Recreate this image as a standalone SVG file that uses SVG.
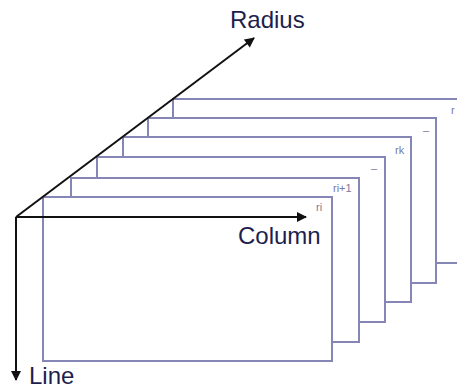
<svg xmlns="http://www.w3.org/2000/svg" width="457" height="389" viewBox="0 0 457 389">
  <defs>
    <marker id="arrow" viewBox="0 0 10 10" refX="9" refY="5" markerWidth="5.5" markerHeight="5" orient="auto" markerUnits="strokeWidth">
      <path d="M0,0 L10,5 L0,10 z" fill="#111"/>
    </marker>
  </defs>
  <style>
    .frame { fill: #ffffff; stroke: #8686b6; stroke-width: 2; }
    .tag { font-family: "Liberation Sans", Arial, sans-serif; font-size: 11px; fill: #7a7a9a; }
    .axis { fill: none; stroke: #111; stroke-width: 2; marker-end: url(#arrow); }
    .axis-label { font-family: "Liberation Sans", Arial, sans-serif; font-size: 24px; fill: #1e1e4e; }
  </style>

  <rect width="457" height="389" fill="#ffffff"/>

  <!-- stacked radius slices, back to front -->
  <g id="slice-r">
    <rect class="frame" x="173" y="99" width="289" height="164"/>
    <text class="tag" x="451" y="114">r</text>
  </g>
  <g id="slice-5">
    <rect class="frame" x="148" y="118" width="288" height="165"/>
    <text class="tag" x="423" y="134">–</text>
  </g>
  <g id="slice-rk">
    <rect class="frame" x="123" y="137" width="288" height="165"/>
    <text class="tag" x="395" y="154">rk</text>
  </g>
  <g id="slice-3">
    <rect class="frame" x="97" y="157" width="288" height="165"/>
    <text class="tag" x="371" y="172">–</text>
  </g>
  <g id="slice-ri1">
    <rect class="frame" x="71" y="178" width="288" height="164"/>
    <text class="tag" x="333" y="192">ri+1</text>
  </g>
  <g id="slice-ri">
    <rect class="frame" x="43" y="197" width="289" height="164"/>
    <text class="tag" x="316" y="211">ri</text>
  </g>

  <!-- coordinate axes -->
  <g id="axes">
    <line class="axis" x1="16" y1="217" x2="254" y2="38"/>
    <line class="axis" x1="16" y1="217" x2="306" y2="217"/>
    <line class="axis" x1="16" y1="217" x2="16" y2="380"/>
  </g>

  <g id="axis-labels">
    <text class="axis-label" x="230" y="28">Radius</text>
    <text class="axis-label" x="238" y="244">Column</text>
    <text class="axis-label" x="29" y="384">Line</text>
  </g>
</svg>
